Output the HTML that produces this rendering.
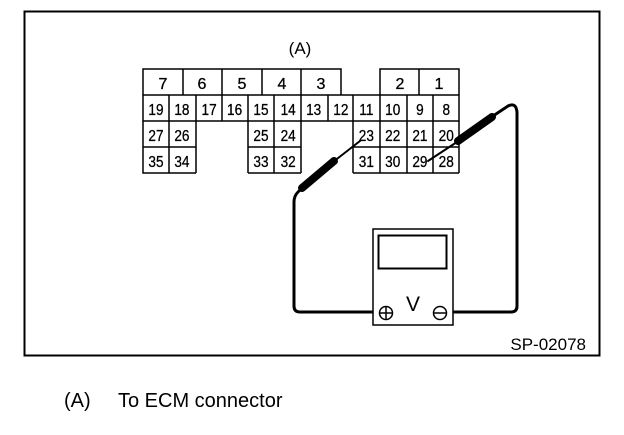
<!DOCTYPE html>
<html><head><meta charset="utf-8"><style>
body{margin:0;background:#fff;width:624px;height:430px;overflow:hidden}
svg text{font-family:"Liberation Sans",sans-serif;fill:#000}
</style></head><body>
<svg width="624" height="430" viewBox="0 0 624 430" xmlns="http://www.w3.org/2000/svg">
<rect x="24.5" y="11.5" width="575" height="344" fill="none" stroke="#000" stroke-width="2"/>
<text x="300" y="54" font-size="17" text-anchor="middle">(A)</text>
<g fill="none" stroke="#000" stroke-width="1.5">
<path d="M143 95V69H341V95 M183 69V95 M222 69V95 M262 69V95 M301 69V95"/>
<path d="M380 95V69H459V95 M419 69V95"/>
<rect x="143" y="95" width="316" height="26"/>
<path d="M169 95V173 M196 95V173 M222 95V121 M248 95V173 M274 95V173 M301 95V173 M328 95V121 M353 95V173 M380 95V173 M407 95V173 M433 95V173"/>
<path d="M143 121V173H196 M143 147H196 M248 147H301 M248 173H301 M353 147H459 M353 173H459 M459 121V173"/>
</g>
<g font-size="16" text-anchor="middle" stroke="#000" stroke-width="0.3">
<text x="163" y="89">7</text><text x="202" y="89">6</text><text x="242" y="89">5</text><text x="282" y="89">4</text><text x="321" y="89">3</text><text x="400" y="89">2</text><text x="439" y="89">1</text>
<g font-size="16" transform="scale(0.85,1)">
<g transform="translate(0,0)">
<text x="183.5" y="115">19</text><text x="214" y="115">18</text><text x="246" y="115">17</text><text x="276" y="115">16</text><text x="307" y="115">15</text><text x="339" y="115">14</text><text x="369" y="115">13</text><text x="401" y="115">12</text><text x="431" y="115">11</text><text x="462" y="115">10</text><text x="494" y="115">9</text><text x="525" y="115">8</text>
<text x="183.5" y="141">27</text><text x="214" y="141">26</text><text x="307" y="141">25</text><text x="339" y="141">24</text><text x="431" y="141">23</text><text x="462" y="141">22</text><text x="494" y="141">21</text><text x="525" y="141">20</text>
<text x="183.5" y="167">35</text><text x="214" y="167">34</text><text x="307" y="167">33</text><text x="339" y="167">32</text><text x="431" y="167">31</text><text x="462" y="167">30</text><text x="494" y="167">29</text><text x="525" y="167">28</text>
</g></g></g>
<g stroke="#000" fill="none" stroke-linecap="round">
<line x1="360" y1="141" x2="333" y2="162" stroke-width="2"/>
<line x1="334" y1="161" x2="302" y2="188" stroke-width="8"/>
<line x1="428" y1="161" x2="460" y2="140" stroke-width="2"/>
<line x1="458" y1="141" x2="492" y2="117" stroke-width="8"/>
<path d="M302 188L298 192Q294 196 294 202V306Q294 312 300 312H380" stroke-width="3"/>
<path d="M490 118L508 106Q516 102 517 112V306Q517 312 511 312H446" stroke-width="3"/>
</g>
<rect x="373" y="229" width="80" height="96" fill="#fff" stroke="#000" stroke-width="1.5"/>
<rect x="378.5" y="235.5" width="68" height="33" fill="none" stroke="#000" stroke-width="2"/>
<text x="413" y="311" font-size="21" text-anchor="middle">V</text>
<circle cx="386" cy="313" r="6.5" fill="#fff" stroke="#000" stroke-width="1.5"/>
<path d="M380 313H392M386 307V319" stroke="#000" stroke-width="1.5"/>
<circle cx="440" cy="313" r="6.5" fill="#fff" stroke="#000" stroke-width="1.5"/>
<path d="M434 313H446" stroke="#000" stroke-width="1.5"/>
<text x="586" y="350" font-size="17" text-anchor="end">SP-02078</text>
<text x="64" y="407" font-size="20">(A)</text>
<text x="118" y="407" font-size="20">To ECM connector</text>
</svg>
</body></html>
